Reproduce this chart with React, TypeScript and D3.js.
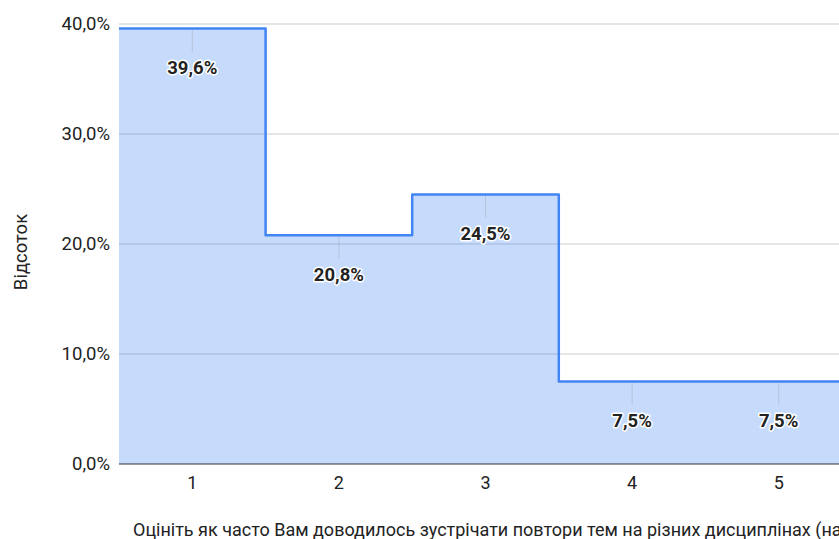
import React, { useEffect, useRef } from 'react';
import * as d3 from 'd3';

const categories = ['1', '2', '3', '4', '5'];
const percentValues = [39.6, 20.8, 24.5, 7.5, 7.5];
const yTicks = [0, 10, 20, 30, 40];
const xTitle = 'Оцініть як часто Вам доводилось зустрічати повтори тем на різних дисциплінах (на';
const yTitle = 'Відсоток';

const W = 839;
const H = 539;

const fmt = (v: number) => v.toFixed(1).replace('.', ',') + '%';

const StepChart: React.FC = () => {
  const ref = useRef<SVGSVGElement | null>(null);

  useEffect(() => {
    const svg = d3.select(ref.current);
    svg.selectAll('*').remove();

    const margin = { top: 24, left: 119, bottom: 75 };
    const plotRight = 852;
    const font = 'Roboto, Arial, sans-serif';

    const x = d3.scaleBand().domain(categories).range([margin.left, plotRight]).padding(0);
    const y = d3.scaleLinear().domain([0, 40]).range([H - margin.bottom, margin.top]);

    // gridlines
    svg.append('g')
      .selectAll('line')
      .data(yTicks.filter((t) => t > 0))
      .enter()
      .append('line')
      .attr('x1', margin.left)
      .attr('x2', W)
      .attr('y1', (d) => y(d))
      .attr('y2', (d) => y(d))
      .attr('stroke', '#cccccc')
      .attr('stroke-width', 1);

    // y tick labels
    svg.append('g')
      .selectAll('text')
      .data(yTicks)
      .enter()
      .append('text')
      .attr('x', 110)
      .attr('y', (d) => y(d))
      .attr('dy', '0.35em')
      .attr('text-anchor', 'end')
      .attr('font-family', font)
      .attr('font-size', 18.5)
      .attr('fill', '#222')
      .text((d) => fmt(d));

    // step points
    const pts: [number, number][] = [];
    categories.forEach((c, i) => {
      const x0 = x(c)!;
      pts.push([x0, percentValues[i]]);
      pts.push([x0 + x.bandwidth(), percentValues[i]]);
    });

    const area = d3.area<[number, number]>()
      .x((d) => d[0])
      .y0(y(0))
      .y1((d) => y(d[1]));
    svg.append('path')
      .datum(pts)
      .attr('d', area)
      .attr('fill', '#4285f4')
      .attr('fill-opacity', 0.3);

    // annotation stems
    svg.append('g')
      .selectAll('line')
      .data(categories)
      .enter()
      .append('line')
      .attr('x1', (c) => x(c)! + x.bandwidth() / 2)
      .attr('x2', (c) => x(c)! + x.bandwidth() / 2)
      .attr('y1', (c, i) => y(percentValues[i]) + 1)
      .attr('y2', (c, i) => y(percentValues[i]) + 23)
      .attr('stroke', '#999')
      .attr('stroke-opacity', 0.35)
      .attr('stroke-width', 1);

    const line = d3.line<[number, number]>()
      .x((d) => d[0])
      .y((d) => y(d[1]));
    svg.append('path')
      .datum(pts)
      .attr('d', line)
      .attr('fill', 'none')
      .attr('stroke', '#4285f4')
      .attr('stroke-width', 2.5)
      .attr('stroke-linejoin', 'round');

    // baseline axis
    svg.append('line')
      .attr('x1', margin.left)
      .attr('x2', W)
      .attr('y1', y(0))
      .attr('y2', y(0))
      .attr('stroke', '#333')
      .attr('stroke-width', 1);

    // data labels
    svg.append('g')
      .selectAll('text')
      .data(categories)
      .enter()
      .append('text')
      .attr('x', (c) => x(c)! + x.bandwidth() / 2)
      .attr('y', (c, i) => y(percentValues[i]) + 39)
      .attr('dy', '0.35em')
      .attr('text-anchor', 'middle')
      .attr('font-family', font)
      .attr('font-size', 18.5)
      .attr('font-weight', 'bold')
      .attr('fill', '#222')
      .attr('stroke', '#fff')
      .attr('stroke-width', 3)
      .attr('stroke-linejoin', 'round')
      .attr('paint-order', 'stroke')
      .text((c, i) => fmt(percentValues[i]));

    // x tick labels
    svg.append('g')
      .selectAll('text')
      .data(categories)
      .enter()
      .append('text')
      .attr('x', (c) => x(c)! + x.bandwidth() / 2)
      .attr('y', 483)
      .attr('dy', '0.35em')
      .attr('text-anchor', 'middle')
      .attr('font-family', font)
      .attr('font-size', 18)
      .attr('fill', '#222')
      .text((c) => c);

    // axis titles
    svg.append('text')
      .attr('x', 133)
      .attr('y', 536)
      .attr('font-family', font)
      .attr('font-size', 18)
      .attr('fill', '#222')
      .text(xTitle);

    svg.append('text')
      .attr('transform', `translate(27,252) rotate(-90)`)
      .attr('text-anchor', 'middle')
      .attr('font-family', font)
      .attr('font-size', 18.5)
      .attr('fill', '#222')
      .text(yTitle);
  }, []);

  return (
    <svg
      ref={ref}
      width={W}
      height={H}
      style={{ position: 'absolute', left: 0, top: 0, background: '#fff' }}
    />
  );
};

export default function App() {
  return <StepChart />;
}
